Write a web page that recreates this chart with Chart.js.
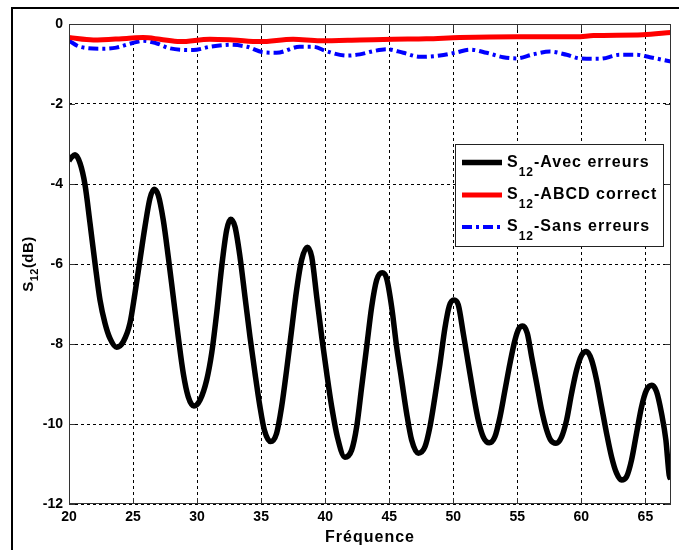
<!DOCTYPE html>
<html><head><meta charset="utf-8">
<script src="https://cdn.jsdelivr.net/npm/chart.js@4/dist/chart.umd.min.js"></script>
<style>
html,body{margin:0;padding:0;background:#fff;}
#wrap{position:relative;width:679px;height:550px;overflow:hidden;background:#fff;}
#frame{position:absolute;left:11px;top:7px;width:720px;height:620px;border-left:2px solid #000;border-top:2px solid #000;}
canvas{position:absolute;left:0;top:0;}
</style></head>
<body><div id="wrap"><div id="frame"></div><canvas id="c" width="679" height="550"></canvas></div>
<script>
// ---- data ----
const xTicks = [20, 25, 30, 35, 40, 45, 50, 55, 60, 65];
const yTicks = [0, -2, -4, -6, -8, -10, -12];

const freqAvec = [20.0, 20.21, 20.47, 20.86, 21.25, 21.64, 22.03, 22.42, 22.81, 23.2, 23.72, 24.24, 24.76, 25.15, 25.54, 25.93, 26.32, 26.64, 26.97, 27.36, 27.75, 28.14, 28.53, 28.92, 29.31, 29.76, 30.23, 30.75, 31.14, 31.53, 31.92, 32.31, 32.62, 32.96, 33.35, 33.74, 34.13, 34.52, 34.9, 35.25, 35.74, 36.21, 36.6, 36.99, 37.38, 37.77, 38.16, 38.6, 38.95, 39.34, 39.73, 40.12, 40.51, 40.95, 41.54, 42.07, 42.46, 42.85, 43.24, 43.63, 44.02, 44.46, 44.8, 45.19, 45.58, 45.97, 46.36, 46.75, 47.27, 47.79, 48.18, 48.57, 48.96, 49.35, 49.69, 50.05, 50.39, 50.78, 51.17, 51.56, 51.95, 52.34, 52.81, 53.25, 53.65, 54.04, 54.43, 54.82, 55.13, 55.42, 55.78, 56.12, 56.51, 56.9, 57.29, 57.6, 58.02, 58.46, 58.85, 59.24, 59.63, 60.02, 60.41, 60.8, 61.19, 61.58, 61.97, 62.36, 62.75, 63.14, 63.53, 63.92, 64.31, 64.7, 65.09, 65.51, 65.87, 66.26, 66.6, 66.86, 67.0];
const s12Avec = [-3.42, -3.33, -3.27, -3.48, -4.02, -4.98, -5.98, -6.9, -7.48, -7.86, -8.08, -7.94, -7.48, -6.73, -5.9, -5.07, -4.36, -4.13, -4.28, -4.9, -5.82, -6.82, -7.82, -8.73, -9.32, -9.55, -9.4, -8.9, -8.23, -7.23, -6.07, -5.15, -4.88, -5.07, -5.82, -6.82, -7.82, -8.73, -9.55, -10.15, -10.44, -10.23, -9.57, -8.65, -7.65, -6.65, -5.9, -5.58, -5.82, -6.82, -7.82, -8.73, -9.57, -10.32, -10.83, -10.65, -10.07, -9.07, -8.07, -7.07, -6.4, -6.22, -6.36, -7.07, -8.07, -8.9, -9.73, -10.4, -10.73, -10.57, -10.07, -9.32, -8.5, -7.6, -7.05, -6.9, -7.02, -7.73, -8.48, -9.23, -9.9, -10.32, -10.47, -10.32, -9.82, -9.15, -8.48, -7.9, -7.61, -7.55, -7.73, -8.32, -8.98, -9.65, -10.15, -10.4, -10.48, -10.32, -9.9, -9.23, -8.65, -8.28, -8.19, -8.4, -8.9, -9.57, -10.23, -10.82, -11.23, -11.4, -11.32, -10.9, -10.23, -9.57, -9.15, -9.03, -9.19, -9.73, -10.4, -11.28, -11.38];

const freqAbcd = [20, 21.9, 24.5, 25.8, 27.1, 28.66, 31, 32.8, 34.9, 37.5, 39.6, 42.7, 45.3, 47.9, 50.5, 54.95, 59.6, 60.95, 64.8, 67];
const s12Abcd = [-0.34, -0.4, -0.36, -0.34, -0.38, -0.44, -0.38, -0.4, -0.44, -0.38, -0.42, -0.4, -0.38, -0.37, -0.34, -0.32, -0.32, -0.29, -0.27, -0.21];

const freqSans = [20.0, 20.86, 22.7, 23.7, 24.9, 25.8, 26.8, 27.9, 29.7, 31.0, 32.6, 33.9, 35.2, 36.2, 38.0, 39.1, 40.1, 41.7, 42.7, 43.75, 44.8, 46.1, 47.4, 48.96, 50.26, 51.3, 52.6, 53.9, 54.95, 56.25, 57.55, 58.85, 59.9, 61.45, 63.0, 64.3, 65.35, 67.0];
const s12Sans = [-0.42, -0.57, -0.62, -0.59, -0.48, -0.42, -0.48, -0.61, -0.65, -0.57, -0.52, -0.57, -0.71, -0.72, -0.57, -0.57, -0.68, -0.79, -0.76, -0.68, -0.63, -0.72, -0.82, -0.79, -0.71, -0.64, -0.72, -0.83, -0.86, -0.76, -0.69, -0.77, -0.86, -0.87, -0.77, -0.77, -0.83, -0.94];

const legendNames = ['-Avec erreurs', '-ABCD correct', '-Sans erreurs'];
const xTitle = 'Fréquence';

// ---- drawing ----
const FONT = '"Liberation Sans", Arial, sans-serif';
const pts = (xs, ys) => xs.map((x, i) => ({x: x, y: ys[i]}));

const framePlugin = {
  id: 'frame',
  afterDatasetsDraw(chart) {
    const {ctx, chartArea: a, scales: {x, y}} = chart;
    ctx.save();
    ctx.strokeStyle = '#333';
    ctx.lineWidth = 1;
    ctx.setLineDash([]);
    ctx.strokeRect(a.left + 0.5, a.top + 0.5, a.right - a.left - 1, a.bottom - a.top - 1);
    ctx.beginPath();
    xTicks.forEach(v => {
      const px = Math.round(x.getPixelForValue(v)) + 0.5;
      ctx.moveTo(px, a.bottom); ctx.lineTo(px, a.bottom - 6);
      ctx.moveTo(px, a.top); ctx.lineTo(px, a.top + 6);
    });
    yTicks.forEach(v => {
      const py = Math.round(y.getPixelForValue(v)) + 0.5;
      ctx.moveTo(a.left, py); ctx.lineTo(a.left + 6, py);
      ctx.moveTo(a.right, py); ctx.lineTo(a.right - 6, py);
    });
    ctx.stroke();
    ctx.restore();
  },
  afterDraw(chart) {
    const {ctx, chartArea: a} = chart;
    ctx.save();
    ctx.fillStyle = '#000';
    // x title
    ctx.font = 'bold 16px ' + FONT;
    ctx.letterSpacing = '1px';
    ctx.textAlign = 'center';
    ctx.textBaseline = 'middle';
    ctx.fillText(xTitle, (a.left + a.right) / 2, 538);
    // y title with subscript, rotated
    ctx.translate(33, 264);
    ctx.rotate(-Math.PI / 2);
    ctx.textAlign = 'left';
    ctx.textBaseline = 'alphabetic';
    ctx.letterSpacing = '0.5px';
    const parts = [['S', 15, 0], ['12', 11, 5], ['(dB)', 15, 0]];
    let total = 0;
    parts.forEach(p => { ctx.font = 'bold ' + p[1] + 'px ' + FONT; total += ctx.measureText(p[0]).width; });
    let cx = -total / 2;
    parts.forEach(p => {
      ctx.font = 'bold ' + p[1] + 'px ' + FONT;
      ctx.fillText(p[0], cx, p[2]);
      cx += ctx.measureText(p[0]).width;
    });
    ctx.restore();

    // legend
    ctx.save();
    const bx = 455, by = 144, bw = 208, bh = 102;
    ctx.fillStyle = '#fff';
    ctx.fillRect(bx, by, bw, bh);
    ctx.strokeStyle = '#222';
    ctx.lineWidth = 1;
    ctx.strokeRect(bx + 0.5, by + 0.5, bw, bh);
    const rows = [162.5, 195, 227];
    chart.data.datasets.forEach((ds, i) => {
      const ry = rows[i];
      ctx.strokeStyle = ds.borderColor;
      ctx.lineWidth = ds.borderWidth;
      ctx.setLineDash(ds.borderDash || []);
      ctx.beginPath();
      ctx.moveTo(462, ry); ctx.lineTo(502, ry);
      ctx.stroke();
      ctx.setLineDash([]);
      ctx.fillStyle = '#000';
      ctx.textBaseline = 'alphabetic';
      ctx.textAlign = 'left';
      ctx.letterSpacing = '1px';
      let tx = 507;
      ctx.font = 'bold 16px ' + FONT;
      ctx.fillText('S', tx, ry + 4);
      tx += ctx.measureText('S').width;
      ctx.font = 'bold 12px ' + FONT;
      ctx.fillText('12', tx, ry + 13);
      tx += ctx.measureText('12').width;
      ctx.font = 'bold 16px ' + FONT;
      ctx.fillText(legendNames[i], tx, ry + 4);
    });
    ctx.restore();
  }
};

const tickFont = {family: FONT, size: 14, weight: 'bold'};

new Chart(document.getElementById('c'), {
  type: 'line',
  data: {
    datasets: [
      {label: 'S12-Avec erreurs', data: pts(freqAvec, s12Avec), borderColor: '#000000', borderWidth: 5.5, pointRadius: 0, cubicInterpolationMode: 'monotone', fill: false},
      {label: 'S12-ABCD correct', data: pts(freqAbcd, s12Abcd), borderColor: '#ff0000', borderWidth: 5, pointRadius: 0, cubicInterpolationMode: 'monotone', fill: false},
      {label: 'S12-Sans erreurs', data: pts(freqSans, s12Sans), borderColor: '#0000ff', borderWidth: 4, borderDash: [10, 4, 3, 4], pointRadius: 0, cubicInterpolationMode: 'monotone', fill: false}
    ]
  },
  options: {
    responsive: false,
    animation: false,
    layout: {padding: {top: 24, right: 8, left: 0, bottom: 0}},
    plugins: {legend: {display: false}, tooltip: {enabled: false}, title: {display: false}},
    scales: {
      x: {
        type: 'linear', min: 20, max: 67,
        afterBuildTicks: ax => { ax.ticks = xTicks.map(v => ({value: v})); },
        afterFit: ax => { ax.height = 46; },
        ticks: {font: tickFont, color: '#000', padding: 5, maxRotation: 0, autoSkip: false},
        grid: {color: '#000', lineWidth: 1, drawTicks: false},
        border: {display: false, dash: [3, 3]}
      },
      y: {
        type: 'linear', min: -12, max: 0,
        afterBuildTicks: ax => { ax.ticks = yTicks.map(v => ({value: v})); },
        afterFit: ax => { ax.width = 69; },
        ticks: {font: tickFont, color: '#000', padding: 6, autoSkip: false},
        grid: {color: '#000', lineWidth: 1, drawTicks: false},
        border: {display: false, dash: [3, 3]}
      }
    }
  },
  plugins: [framePlugin]
});
</script>
</body></html>
